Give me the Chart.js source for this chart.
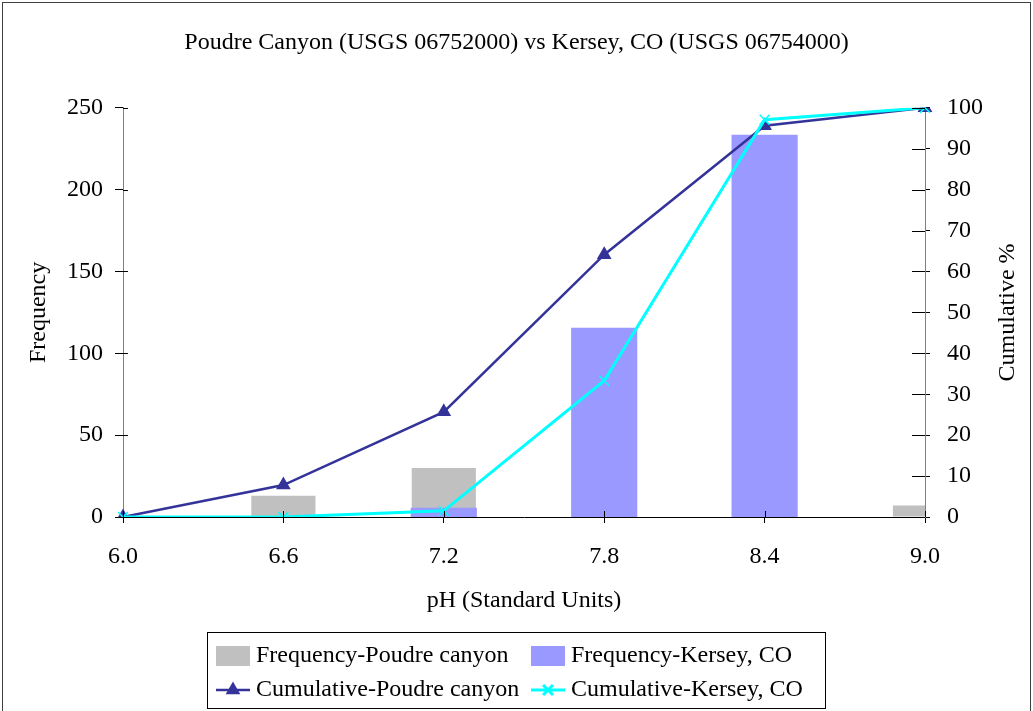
<!DOCTYPE html>
<html>
<head>
<meta charset="utf-8">
<script src="https://cdn.jsdelivr.net/npm/chart.js@4"></script>
<style>
  html, body { margin: 0; padding: 0; background: #fff; }
  #wrap { position: relative; width: 1033px; height: 711px; }
</style>
</head>
<body>
<div id="wrap"><canvas id="chart" width="1033" height="711"></canvas></div>
<script>
// pH bins and values
const phBins = ["6.0", "6.6", "7.2", "7.8", "8.4", "9.0"];
const freqPoudre = [0, 13, 30, 64, 52, 7];
const freqKersey = [0, 0, 5, 115, 233, 0];
const cumPoudre = [0, 7.8, 25.7, 64.1, 95.6, 100];
const cumKersey = [0, 0, 1.5, 33.3, 97.1, 100];

const FONT = { family: "'Liberation Serif', 'Times New Roman', serif", size: 24 };
const C = {
  gray: "#c0c0c0",
  blue: "#9999ff",
  navy: "#333399",
  cyan: "#00ffff",
  axis: "#808080",
};

// frame, inner tick halves, right axis title, boxed legend
const extras = {
  id: "extras",
  beforeDraw(chart) {
    const ctx = chart.ctx;
    ctx.save();
    ctx.strokeStyle = "#404040";
    ctx.lineWidth = 1;
    ctx.strokeRect(2.5, 2.5, 1028, 800);
    ctx.restore();
  },
  afterDraw(chart) {
    const { ctx, chartArea: a, scales } = chart;
    ctx.save();
    ctx.strokeStyle = "#000";
    ctx.lineWidth = 1;
    ctx.beginPath();
    scales.y.ticks.forEach((t, i) => {
      const py = Math.round(scales.y.getPixelForTick(i)) + 0.5;
      ctx.moveTo(a.left, py); ctx.lineTo(a.left + 5, py);
    });
    scales.y1.ticks.forEach((t, i) => {
      const py = Math.round(scales.y1.getPixelForTick(i)) + 0.5;
      ctx.moveTo(a.right - 13, py); ctx.lineTo(a.right, py);
    });
    scales.x.ticks.forEach((t, i) => {
      const px = Math.round(scales.x.getPixelForTick(i)) + 0.5;
      ctx.moveTo(px, a.bottom - 6); ctx.lineTo(px, a.bottom);
    });
    ctx.stroke();

    // right axis title, reads bottom to top
    ctx.fillStyle = "#000";
    ctx.font = `${FONT.size}px ${FONT.family}`;
    ctx.textAlign = "center";
    ctx.textBaseline = "middle";
    ctx.translate(1008, (a.top + a.bottom) / 2);
    ctx.rotate(-Math.PI / 2);
    ctx.fillText("Cumulative %", 0, 0);
    ctx.setTransform(1, 0, 0, 1, 0, 0);

    // legend box
    ctx.strokeStyle = "#000";
    ctx.strokeRect(207.5, 632.5, 618, 76);
    const cols = [216, 531];
    const rows = [656, 690];
    ctx.textAlign = "left";
    chart.data.datasets.forEach((ds, i) => {
      const x = cols[i % 2];
      const y = rows[Math.floor(i / 2)];
      if (ds.type === "bar") {
        ctx.fillStyle = ds.backgroundColor;
        ctx.fillRect(x, y - 10, 34, 20);
      } else {
        ctx.strokeStyle = ds.borderColor;
        ctx.lineWidth = ds.borderWidth;
        ctx.beginPath();
        ctx.moveTo(x, y); ctx.lineTo(x + 34, y);
        ctx.stroke();
        ctx.fillStyle = ds.pointBackgroundColor;
        ctx.strokeStyle = ds.pointBorderColor;
        Chart.helpers.drawPoint(ctx, { pointStyle: ds.pointStyle, radius: ds.pointRadius, borderWidth: 1.5 }, x + 17, y);
      }
      ctx.fillStyle = "#000";
      ctx.fillText(ds.label, x + 40, y);
    });
    ctx.restore();
  },
};

new Chart(document.getElementById("chart"), {
  data: {
    labels: phBins,
    datasets: [
      {
        type: "bar",
        label: "Frequency-Poudre canyon",
        data: freqPoudre,
        backgroundColor: C.gray,
        yAxisID: "y",
        grouped: false,
        barPercentage: 0.4,
        categoryPercentage: 1,
        inflateAmount: 0,
        clip: 0,
        order: 4,
      },
      {
        type: "bar",
        label: "Frequency-Kersey, CO",
        data: freqKersey,
        backgroundColor: C.blue,
        yAxisID: "y",
        grouped: false,
        barPercentage: 0.4,
        categoryPercentage: 1,
        // cover the grey bar's anti-aliased edges, but keep empty bins empty
        inflateAmount: ctx => (ctx.raw > 0 ? 1 : 0),
        clip: 0,
        order: 3,
      },
      {
        type: "line",
        label: "Cumulative-Poudre canyon",
        data: cumPoudre,
        borderColor: C.navy,
        borderWidth: 2.5,
        pointStyle: "triangle",
        pointRadius: 6,
        pointBackgroundColor: C.navy,
        pointBorderColor: C.navy,
        yAxisID: "y1",
        tension: 0,
        order: 2,
      },
      {
        type: "line",
        label: "Cumulative-Kersey, CO",
        data: cumKersey,
        borderColor: C.cyan,
        borderWidth: 3,
        pointStyle: "crossRot",
        pointRadius: 7,
        pointBorderWidth: 1.5,
        pointBackgroundColor: C.cyan,
        pointBorderColor: C.cyan,
        yAxisID: "y1",
        tension: 0,
        order: 1,
      },
    ],
  },
  options: {
    responsive: false,
    animation: false,
    layout: { padding: { left: 0, right: 0, top: 0, bottom: 84 } },
    plugins: {
      legend: { display: false },
      tooltip: { enabled: false },
      title: {
        display: true,
        text: "Poudre Canyon (USGS 06752000) vs Kersey, CO (USGS 06754000)",
        color: "#000",
        font: { ...FONT, size: 24, weight: "normal" },
        padding: { top: 28, bottom: 51 },
      },
    },
    scales: {
      x: {
        type: "category",
        offset: false,
        grid: { display: true, drawOnChartArea: false, offset: false, tickLength: 6, tickColor: "#000" },
        border: { color: "#000", width: 1 },
        ticks: { font: FONT, color: "#000", padding: 19, maxRotation: 0 },
        title: { display: true, text: "pH (Standard Units)", font: FONT, color: "#000", padding: { top: 0, bottom: 12 } },
        afterFit(scale) { scale.height = 110; },
      },
      y: {
        position: "left",
        min: 0,
        max: 250,
        ticks: { stepSize: 50, font: FONT, color: "#000", padding: 12 },
        grid: { drawOnChartArea: false, tickLength: 8, tickColor: "#000" },
        border: { color: C.axis, width: 1 },
        title: { display: true, text: "Frequency", font: FONT, color: "#000", padding: { top: 24, bottom: 0 } },
        afterFit(scale) { scale.width = 123; },
      },
      y1: {
        position: "right",
        min: 0,
        max: 100,
        ticks: { stepSize: 10, font: FONT, color: "#000", padding: 17 },
        grid: { drawOnChartArea: false, tickLength: 5, tickColor: "#000" },
        border: { color: C.axis, width: 1 },
        afterFit(scale) { scale.width = 108; },
      },
    },
  },
  plugins: [extras],
});
</script>
</body>
</html>
